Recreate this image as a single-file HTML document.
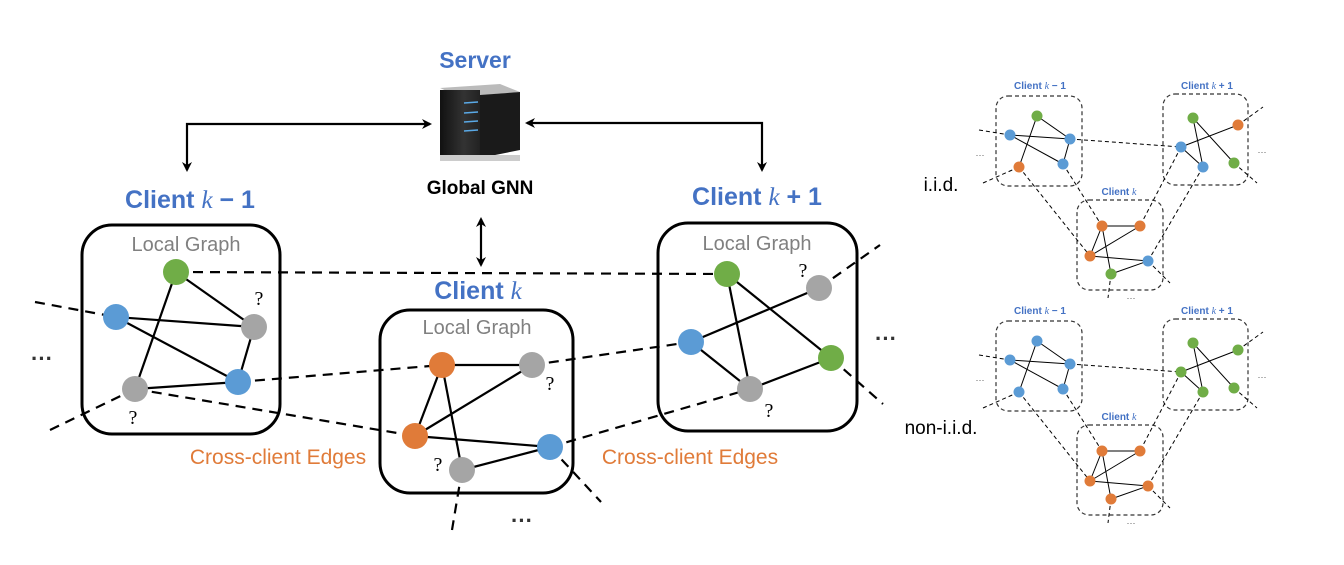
<!DOCTYPE html>
<html><head><meta charset="utf-8"><style>
body{margin:0;background:#fff}
svg text{font-family:"Liberation Sans",sans-serif}
.m{font-family:"Liberation Serif",serif;font-style:italic;font-weight:normal}
</style></head><body>
<svg width="1344" height="560" viewBox="0 0 1344 560" xmlns="http://www.w3.org/2000/svg">
<defs>
<marker id="ar" markerWidth="10" markerHeight="10" refX="8" refY="5" orient="auto-start-reverse" markerUnits="userSpaceOnUse"><path d="M0,0 L10,5 L0,10 L3,5 z" fill="#000"/></marker>
<linearGradient id="sv" x1="0" x2="1"><stop offset="0" stop-color="#111"/><stop offset="0.6" stop-color="#333"/><stop offset="1" stop-color="#222"/></linearGradient>
</defs>
<!-- Server -->
<text x="475" y="68" font-size="23" font-weight="bold" fill="#4472c4" text-anchor="middle">Server</text>
<path d="M440,88 L500,84 L520,92 L460,97 z" fill="#bbb"/>
<rect x="440" y="90" width="40" height="65" fill="url(#sv)"/>
<path d="M480,95 L520,92 L520,150 L480,158 z" fill="#1a1a1a"/>
<g stroke="#5aa9e6" stroke-width="1.5"><line x1="464" y1="103" x2="478" y2="102"/><line x1="464" y1="113" x2="478" y2="112"/><line x1="464" y1="122" x2="478" y2="121"/><line x1="464" y1="131" x2="478" y2="130"/></g>
<rect x="440" y="155" width="80" height="6" fill="#ccc"/>
<text x="480" y="194" font-size="19" font-weight="bold" fill="#000" text-anchor="middle">Global GNN</text>
<!-- arrows -->
<polyline points="187,170 187,124 430,124" fill="none" stroke="#000" stroke-width="2.2" marker-start="url(#ar)" marker-end="url(#ar)"/>
<polyline points="527,123 762,123 762,170" fill="none" stroke="#000" stroke-width="2.2" marker-start="url(#ar)" marker-end="url(#ar)"/>
<line x1="481" y1="219" x2="481" y2="265" stroke="#000" stroke-width="2.2" marker-start="url(#ar)" marker-end="url(#ar)"/>
<!-- titles -->
<text x="190" y="208" font-size="25" font-weight="bold" fill="#4472c4" text-anchor="middle">Client <tspan class="m">k</tspan> − 1</text>
<text x="478" y="299" font-size="25" font-weight="bold" fill="#4472c4" text-anchor="middle">Client <tspan class="m">k</tspan></text>
<text x="757" y="205" font-size="25" font-weight="bold" fill="#4472c4" text-anchor="middle">Client <tspan class="m">k</tspan> + 1</text>
<!-- boxes -->
<g fill="none" stroke="#000" stroke-width="3">
<rect x="82" y="225" width="198" height="209" rx="30"/>
<rect x="380" y="310" width="193" height="183" rx="30"/>
<rect x="658" y="223" width="199" height="208" rx="30"/>
</g>
<g font-size="20" fill="#808080" text-anchor="middle">
<text x="186" y="251">Local Graph</text>
<text x="477" y="334">Local Graph</text>
<text x="757" y="250">Local Graph</text>
</g>
<!-- dashed cross edges -->
<g stroke="#000" stroke-width="2.2" stroke-dasharray="10,7" fill="none">
<line x1="35" y1="302" x2="116" y2="317"/>
<line x1="50" y1="430" x2="135" y2="389"/>
<line x1="176" y1="272" x2="727" y2="274"/>
<line x1="238" y1="382" x2="442" y2="365"/>
<line x1="135" y1="389" x2="415" y2="436"/>
<line x1="532" y1="365" x2="691" y2="342"/>
<line x1="550" y1="447" x2="750" y2="389"/>
<line x1="462" y1="470" x2="452" y2="530"/>
<line x1="550" y1="447" x2="601" y2="502"/>
<line x1="819" y1="288" x2="880" y2="245"/>
<line x1="831" y1="358" x2="883" y2="404"/>
</g>
<!-- solid edges -->
<g stroke="#000" stroke-width="2.2">
<line x1="176" y1="272" x2="254" y2="327"/><line x1="176" y1="272" x2="135" y2="389"/>
<line x1="116" y1="317" x2="254" y2="327"/><line x1="116" y1="317" x2="238" y2="382"/>
<line x1="254" y1="327" x2="238" y2="382"/><line x1="135" y1="389" x2="238" y2="382"/>
<line x1="442" y1="365" x2="532" y2="365"/><line x1="442" y1="365" x2="415" y2="436"/>
<line x1="442" y1="365" x2="462" y2="470"/><line x1="415" y1="436" x2="532" y2="365"/>
<line x1="415" y1="436" x2="550" y2="447"/><line x1="462" y1="470" x2="550" y2="447"/>
<line x1="727" y1="274" x2="750" y2="389"/><line x1="727" y1="274" x2="831" y2="358"/>
<line x1="691" y1="342" x2="819" y2="288"/><line x1="691" y1="342" x2="750" y2="389"/>
<line x1="750" y1="389" x2="831" y2="358"/>
</g>
<!-- nodes -->
<g>
<circle cx="176" cy="272" r="13" fill="#70ad47"/><circle cx="116" cy="317" r="13" fill="#5b9bd5"/>
<circle cx="254" cy="327" r="13" fill="#a5a5a5"/><circle cx="238" cy="382" r="13" fill="#5b9bd5"/>
<circle cx="135" cy="389" r="13" fill="#a5a5a5"/>
<circle cx="442" cy="365" r="13" fill="#e07b39"/><circle cx="532" cy="365" r="13" fill="#a5a5a5"/>
<circle cx="415" cy="436" r="13" fill="#e07b39"/><circle cx="550" cy="447" r="13" fill="#5b9bd5"/>
<circle cx="462" cy="470" r="13" fill="#a5a5a5"/>
<circle cx="727" cy="274" r="13" fill="#70ad47"/><circle cx="819" cy="288" r="13" fill="#a5a5a5"/>
<circle cx="691" cy="342" r="13" fill="#5b9bd5"/><circle cx="831" cy="358" r="13" fill="#70ad47"/>
<circle cx="750" cy="389" r="13" fill="#a5a5a5"/>
</g>
<g font-size="20" fill="#000" text-anchor="middle" font-family="Liberation Serif">
<text x="259" y="305" style="font-family:'Liberation Serif',serif">?</text>
<text x="133" y="424" style="font-family:'Liberation Serif',serif">?</text>
<text x="550" y="390" style="font-family:'Liberation Serif',serif">?</text>
<text x="438" y="471" style="font-family:'Liberation Serif',serif">?</text>
<text x="803" y="277" style="font-family:'Liberation Serif',serif">?</text>
<text x="769" y="417" style="font-family:'Liberation Serif',serif">?</text>
</g>
<g font-size="22" font-weight="bold" fill="#333" text-anchor="middle">
<text x="42" y="366">···</text><text x="886" y="346">···</text><text x="522" y="528">···</text>
</g>
<g font-size="21" fill="#e07b39" text-anchor="middle">
<text x="278" y="464">Cross-client Edges</text>
<text x="690" y="464">Cross-client Edges</text>
</g>
<!-- right small diagrams -->
<text x="941" y="191" font-size="19" fill="#000" text-anchor="middle">i.i.d.</text>
<text x="941" y="434" font-size="19" fill="#000" text-anchor="middle">non-i.i.d.</text>
<g id="top">
<g font-size="10" font-weight="bold" fill="#4472c4" text-anchor="middle">
<text x="1040" y="89">Client <tspan class="m">k</tspan> − 1</text>
<text x="1207" y="89">Client <tspan class="m">k</tspan> + 1</text>
<text x="1119" y="195">Client <tspan class="m">k</tspan></text>
</g>
<g fill="none" stroke="#333" stroke-width="1.2" stroke-dasharray="4,3">
<rect x="996" y="96" width="86" height="90" rx="12"/>
<rect x="1163" y="94" width="85" height="91" rx="12"/>
<rect x="1077" y="200" width="86" height="90" rx="12"/>
</g>
<g stroke="#000" stroke-width="1" stroke-dasharray="4,3">
<line x1="979" y1="130" x2="1010" y2="135"/><line x1="983" y1="183" x2="1019" y2="167"/>
<line x1="1070" y1="139" x2="1181" y2="147"/><line x1="1238" y1="125" x2="1263" y2="107"/>
<line x1="1234" y1="163" x2="1257" y2="183"/><line x1="1019" y1="167" x2="1090" y2="256"/>
<line x1="1063" y1="164" x2="1102" y2="226"/><line x1="1181" y1="147" x2="1140" y2="226"/>
<line x1="1203" y1="167" x2="1148" y2="261"/><line x1="1148" y1="261" x2="1170" y2="283"/>
<line x1="1111" y1="274" x2="1108" y2="298"/>
</g>
<g stroke="#000" stroke-width="1">
<line x1="1037" y1="116" x2="1070" y2="139"/><line x1="1037" y1="116" x2="1019" y2="167"/>
<line x1="1010" y1="135" x2="1070" y2="139"/><line x1="1010" y1="135" x2="1063" y2="164"/>
<line x1="1070" y1="139" x2="1063" y2="164"/>
<line x1="1193" y1="118" x2="1203" y2="167"/><line x1="1193" y1="118" x2="1234" y2="163"/>
<line x1="1181" y1="147" x2="1238" y2="125"/><line x1="1181" y1="147" x2="1203" y2="167"/>
<line x1="1102" y1="226" x2="1140" y2="226"/><line x1="1102" y1="226" x2="1090" y2="256"/>
<line x1="1102" y1="226" x2="1111" y2="274"/><line x1="1090" y1="256" x2="1140" y2="226"/>
<line x1="1090" y1="256" x2="1148" y2="261"/><line x1="1111" y1="274" x2="1148" y2="261"/>
</g>
<g font-size="9" fill="#555" text-anchor="middle"><text x="980" y="158">···</text><text x="1262" y="155">···</text><text x="1131" y="301">···</text></g>
</g>
<!-- top nodes -->
<g>
<circle cx="1037" cy="116" r="5.5" fill="#70ad47"/><circle cx="1010" cy="135" r="5.5" fill="#5b9bd5"/>
<circle cx="1070" cy="139" r="5.5" fill="#5b9bd5"/><circle cx="1063" cy="164" r="5.5" fill="#5b9bd5"/>
<circle cx="1019" cy="167" r="5.5" fill="#e07b39"/>
<circle cx="1193" cy="118" r="5.5" fill="#70ad47"/><circle cx="1238" cy="125" r="5.5" fill="#e07b39"/>
<circle cx="1181" cy="147" r="5.5" fill="#5b9bd5"/><circle cx="1203" cy="167" r="5.5" fill="#5b9bd5"/>
<circle cx="1234" cy="163" r="5.5" fill="#70ad47"/>
<circle cx="1102" cy="226" r="5.5" fill="#e07b39"/><circle cx="1140" cy="226" r="5.5" fill="#e07b39"/>
<circle cx="1090" cy="256" r="5.5" fill="#e07b39"/><circle cx="1148" cy="261" r="5.5" fill="#5b9bd5"/>
<circle cx="1111" cy="274" r="5.5" fill="#70ad47"/>
</g>
<use href="#top" transform="translate(0,225)"/>
<g transform="translate(0,225)">
<circle cx="1037" cy="116" r="5.5" fill="#5b9bd5"/><circle cx="1010" cy="135" r="5.5" fill="#5b9bd5"/>
<circle cx="1070" cy="139" r="5.5" fill="#5b9bd5"/><circle cx="1063" cy="164" r="5.5" fill="#5b9bd5"/>
<circle cx="1019" cy="167" r="5.5" fill="#5b9bd5"/>
<circle cx="1193" cy="118" r="5.5" fill="#70ad47"/><circle cx="1238" cy="125" r="5.5" fill="#70ad47"/>
<circle cx="1181" cy="147" r="5.5" fill="#70ad47"/><circle cx="1203" cy="167" r="5.5" fill="#70ad47"/>
<circle cx="1234" cy="163" r="5.5" fill="#70ad47"/>
<circle cx="1102" cy="226" r="5.5" fill="#e07b39"/><circle cx="1140" cy="226" r="5.5" fill="#e07b39"/>
<circle cx="1090" cy="256" r="5.5" fill="#e07b39"/><circle cx="1148" cy="261" r="5.5" fill="#e07b39"/>
<circle cx="1111" cy="274" r="5.5" fill="#e07b39"/>
</g>
</svg>
</body></html>
